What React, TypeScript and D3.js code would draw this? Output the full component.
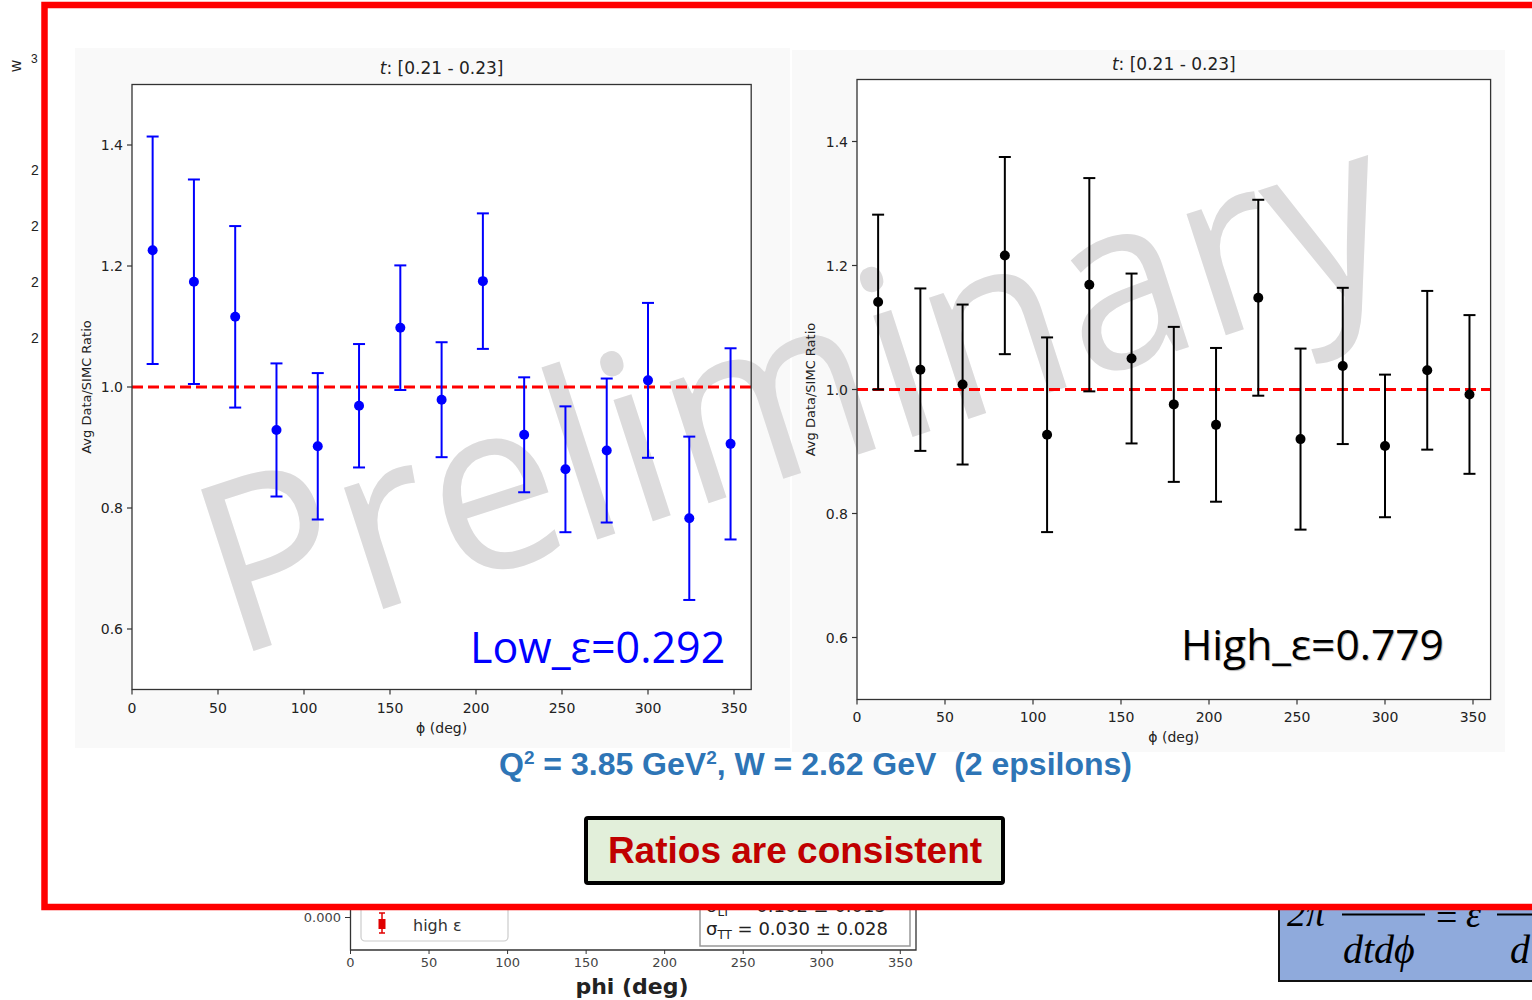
import React from 'react';
import * as d3 from 'd3';

// phi bin centres (deg)
const phiCenters = [12, 36, 60, 84, 108, 132, 156, 180, 204, 228, 252, 276, 300, 324, 348];

// low epsilon: average Data/SIMC ratio and its uncertainty
const lowEpsRatio = [1.226, 1.174, 1.116, 0.929, 0.902, 0.969, 1.098, 0.979, 1.175, 0.921, 0.864, 0.895, 1.011, 0.783, 0.906];
const lowEpsError = [0.188, 0.169, 0.15, 0.11, 0.121, 0.102, 0.103, 0.095, 0.112, 0.095, 0.104, 0.119, 0.128, 0.135, 0.158];

// high epsilon: average Data/SIMC ratio and its uncertainty
const highEpsRatio = [1.141, 1.032, 1.008, 1.216, 0.927, 1.169, 1.05, 0.976, 0.943, 1.148, 0.92, 1.038, 0.909, 1.031, 0.992];
const highEpsError = [0.141, 0.131, 0.129, 0.159, 0.157, 0.172, 0.137, 0.125, 0.124, 0.158, 0.146, 0.126, 0.115, 0.128, 0.128];

const yTicks = [0.6, 0.8, 1.0, 1.2, 1.4];
const xTicks = [0, 50, 100, 150, 200, 250, 300, 350];
const phiDomain = [0, 360];
const ratioDomain = [0.5, 1.5];
const referenceRatio = 1.0;

const tBinText = '[0.21 - 0.23]';
const lowEpsText = 'Low_ε=0.292';
const highEpsText = 'High_ε=0.779';
const yAxisText = 'Avg Data/SIMC Ratio';
const xAxisText = 'ϕ (deg)';
const conclusionText = 'Ratios are consistent';

const MPL = 'DejaVu Sans, sans-serif';
const fmtY = d3.format('.1f');

type PanelGeom = {
  left: number;
  right: number;
  top: number;
  bottom: number;
};

function Face({ g }: { g: PanelGeom }) {
  return <rect x={g.left} y={g.top} width={g.right - g.left} height={g.bottom - g.top} fill="#ffffff" />;
}

function RatioPanel({
  g,
  ratios,
  errors,
  color,
  titleY,
  xLabelY,
  yLabelX,
  xTickLabelY,
}: {
  g: PanelGeom;
  ratios: number[];
  errors: number[];
  color: string;
  titleY: number;
  xLabelY: number;
  yLabelX: number;
  xTickLabelY: number;
}) {
  const x = d3.scaleLinear().domain(phiDomain).range([g.left, g.right]);
  const y = d3.scaleLinear().domain(ratioDomain).range([g.bottom, g.top]);
  const cx = (g.left + g.right) / 2;
  const cy = (g.top + g.bottom) / 2;
  const cap = 6;
  return (
    <g>
      {/* reference line at ratio = 1 */}
      <line
        x1={x(phiDomain[0])}
        x2={x(phiDomain[1])}
        y1={y(referenceRatio)}
        y2={y(referenceRatio)}
        stroke="#ff0000"
        strokeWidth={3}
        strokeDasharray="11,5"
      />
      {/* error bars */}
      {phiCenters.map((phi, i) => {
        const px = x(phi);
        const yHi = y(ratios[i] + errors[i]);
        const yLo = y(ratios[i] - errors[i]);
        return (
          <g key={'e' + i} stroke={color} strokeWidth={2}>
            <line x1={px} x2={px} y1={yHi} y2={yLo} />
            <line x1={px - cap} x2={px + cap} y1={yHi} y2={yHi} />
            <line x1={px - cap} x2={px + cap} y1={yLo} y2={yLo} />
          </g>
        );
      })}
      {phiCenters.map((phi, i) => (
        <circle key={'p' + i} cx={x(phi)} cy={y(ratios[i])} r={5} fill={color} />
      ))}
      {/* frame */}
      <rect
        x={g.left}
        y={g.top}
        width={g.right - g.left}
        height={g.bottom - g.top}
        fill="none"
        stroke="#333"
        strokeWidth={1.3}
      />
      {/* y ticks */}
      {yTicks.map((t) => (
        <g key={'yt' + t}>
          <line x1={g.left - 5} x2={g.left} y1={y(t)} y2={y(t)} stroke="#333" strokeWidth={1.2} />
          <text
            x={g.left - 9}
            y={y(t)}
            dy="0.36em"
            textAnchor="end"
            fontFamily={MPL}
            fontSize={14}
            fill="#222"
          >
            {fmtY(t)}
          </text>
        </g>
      ))}
      {/* x ticks */}
      {xTicks.map((t) => (
        <g key={'xt' + t}>
          <line x1={x(t)} x2={x(t)} y1={g.bottom} y2={g.bottom + 5} stroke="#333" strokeWidth={1.2} />
          <text x={x(t)} y={xTickLabelY} textAnchor="middle" fontFamily={MPL} fontSize={14} fill="#222">
            {t}
          </text>
        </g>
      ))}
      <text x={cx} y={xLabelY} textAnchor="middle" fontFamily={MPL} fontSize={14} fill="#222">
        {xAxisText}
      </text>
      <text
        transform={`translate(${yLabelX},${cy}) rotate(-90)`}
        textAnchor="middle"
        fontFamily={MPL}
        fontSize={13}
        fill="#222"
      >
        {yAxisText}
      </text>
      <text x={cx} y={titleY} textAnchor="middle" fontFamily={MPL} fontSize={17} fill="#222">
        <tspan fontStyle="italic">t</tspan>
        <tspan>{': ' + tBinText}</tspan>
      </text>
    </g>
  );
}

// partially covered fit plot below the main frame
const fitTicks = [0, 50, 100, 150, 200, 250, 300, 350];

function FitPlotStrip() {
  const x = d3.scaleLinear().domain(phiDomain).range([350.5, 916]);
  return (
    <g>
      <text x={341} y={922} textAnchor="end" fontFamily={MPL} fontSize={13} fill="#444">
        0.000
      </text>
      <line x1={345} x2={350.5} y1={917.5} y2={917.5} stroke="#333" strokeWidth={1} />
      <rect x={361} y={890} width={147} height={51} rx={4} fill="#fff" stroke="#ccc" strokeWidth={1.2} />
      <line x1={382} x2={382} y1={913} y2={933} stroke="#e00000" strokeWidth={1.5} />
      <line x1={379} x2={385} y1={913} y2={913} stroke="#e00000" strokeWidth={1.5} />
      <line x1={379} x2={385} y1={933} y2={933} stroke="#e00000" strokeWidth={1.5} />
      <rect x={378.5} y={919} width={7} height={10} fill="#e00000" />
      <text x={413} y={931} fontFamily={MPL} fontSize={16} fill="#333">
        high ε
      </text>
      <rect x={700} y={880} width={210} height={66} fill="#fff" stroke="#999" strokeWidth={1.5} />
      <text x={706} y={912} fontFamily={MPL} fontSize={18} fill="#222">
        σ<tspan fontSize={12} dy={4}>LT</tspan>
        <tspan dy={-4}> = 0.102 ± 0.013</tspan>
      </text>
      <text x={706} y={935} fontFamily={MPL} fontSize={18} fill="#222">
        σ<tspan fontSize={12} dy={4}>TT</tspan>
        <tspan dy={-4}> = 0.030 ± 0.028</tspan>
      </text>
      <path d="M350.5,880 V950 H916 V880" fill="none" stroke="#333" strokeWidth={1.3} />
      {fitTicks.map((t) => (
        <g key={'ft' + t}>
          <line x1={x(t)} x2={x(t)} y1={950} y2={954} stroke="#333" strokeWidth={1} />
          <text x={x(t)} y={967} textAnchor="middle" fontFamily={MPL} fontSize={13} fill="#444">
            {t}
          </text>
        </g>
      ))}
      <text x={632} y={994} textAnchor="middle" fontFamily={MPL} fontWeight="bold" fontSize={22} fill="#222">
        phi (deg)
      </text>
    </g>
  );
}

function FormulaStrip() {
  const serif = 'Liberation Serif, Times New Roman, serif';
  return (
    <g>
      <rect x={1279} y={870} width={280} height={111} fill="#8faadc" stroke="#111" strokeWidth={2} />
      <text x={1287} y={926} fontFamily={serif} fontStyle="italic" fontSize={38} fill="#000">
        2π
      </text>
      <line x1={1342} x2={1425} y1={914.5} y2={914.5} stroke="#000" strokeWidth={2} />
      <text x={1436} y={930} fontFamily={serif} fontSize={38} fill="#000">
        =
      </text>
      <text x={1466} y={927} fontFamily={serif} fontStyle="italic" fontSize={38} fill="#000">
        ε
      </text>
      <line x1={1497} x2={1540} y1={914.5} y2={914.5} stroke="#000" strokeWidth={2} />
      <text x={1343} y={963} fontFamily={serif} fontStyle="italic" fontSize={40} fill="#000">
        dtdϕ
      </text>
      <text x={1510} y={963} fontFamily={serif} fontStyle="italic" fontSize={40} fill="#000">
        d
      </text>
    </g>
  );
}

export default function App() {
  const leftG: PanelGeom = { left: 132, right: 751.2, top: 84.5, bottom: 689.5 };
  const rightG: PanelGeom = { left: 857, right: 1490.6, top: 79.5, bottom: 699.5 };
  const sans = 'Liberation Sans, Arial, sans-serif';
  return (
    <svg
      width={1532}
      height={1000}
      viewBox="0 0 1532 1000"
      style={{ position: 'absolute', left: 0, top: 0, background: '#fff' }}
    >
      <rect x={0} y={0} width={1532} height={1000} fill="#fff" />

      {/* slide content underneath the frame */}
      <FitPlotStrip />
      <FormulaStrip />
      <text transform="translate(21,66) rotate(-90)" fontFamily={sans} fontSize={16} fill="#222" textAnchor="middle">
        w
      </text>
      <text x={31} y={63} fontFamily={sans} fontSize={12} fill="#222">
        3
      </text>
      {[175, 231, 287, 343].map((yy) => (
        <text key={yy} x={31} y={yy} fontFamily={sans} fontSize={14} fill="#222">
          2
        </text>
      ))}

      {/* framed comparison area */}
      <rect x={41} y={0} width={1491} height={907} fill="#fff" />
      <rect x={75} y={48} width={715} height={700} fill="#f9f9f9" />
      <rect x={792} y={50} width={713} height={702} fill="#f9f9f9" />
      <Face g={leftG} />
      <Face g={rightG} />

      {/* watermark */}
      <text
        transform="translate(232,658) rotate(-18)"
        fontFamily="Open Sans, sans-serif"
        fontSize={238}
        fill="#dcdbdc"
        textLength={1236}
        lengthAdjust="spacingAndGlyphs"
      >
        Preliminary
      </text>

      <RatioPanel
        g={leftG}
        ratios={lowEpsRatio}
        errors={lowEpsError}
        color="#0000ff"
        titleY={74}
        xLabelY={733}
        yLabelX={91}
        xTickLabelY={713}
      />
      <RatioPanel
        g={rightG}
        ratios={highEpsRatio}
        errors={highEpsError}
        color="#000000"
        titleY={70}
        xLabelY={742}
        yLabelX={815}
        xTickLabelY={722}
      />

      <text x={470} y={663} fontFamily="Open Sans, sans-serif" fontSize={43} fill="#0000ff">
        {lowEpsText}
      </text>
      <text x={1181} y={660} fontFamily="Open Sans, sans-serif" fontSize={42.5} fill="#000" style={{ textShadow: '1px 1px 1px rgba(0,0,0,0.3)' }}>
        {highEpsText}
      </text>

      <text x={499} y={775} fontFamily={sans} fontWeight="bold" fontSize={32} fill="#2e75b6" style={{ whiteSpace: 'pre' }}>
        Q<tspan fontSize={19} dy={-11}>2</tspan>
        <tspan dy={11}>{' = 3.85 GeV'}</tspan>
        <tspan fontSize={19} dy={-11}>2</tspan>
        <tspan dy={11}>{', W = 2.62 GeV  (2 epsilons)'}</tspan>
      </text>

      <rect x={586} y={818} width={417} height={65} fill="#e2efda" stroke="#000" strokeWidth={4} rx={2} />
      <text x={795} y={863} textAnchor="middle" fontFamily={sans} fontWeight="bold" fontSize={37} fill="#c00000">
        {conclusionText}
      </text>

      {/* red frame */}
      <rect x={44.5} y={5} width={1600} height={902} fill="none" stroke="#ff0000" strokeWidth={6.5} />
    </svg>
  );
}
